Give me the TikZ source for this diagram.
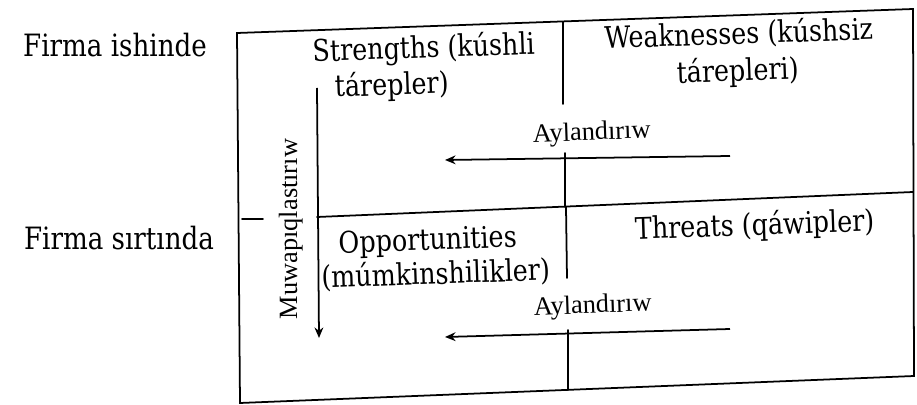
\documentclass[tikz,border=0pt]{standalone}
\usepackage{fontspec}
\setmainfont{Liberation Serif}
\newfontfamily\cellfont{DejaVu Serif}[FakeStretch=0.85]
\usetikzlibrary{arrows.meta}

\begin{document}
\begin{tikzpicture}[x=0.02cm, y=-0.02cm,
  rule/.style={line width=1pt, line cap=round},
  flow/.style={line width=1pt, -{Stealth[length=6pt,width=5pt]}},
  celltext/.style={font=\cellfont\fontsize{17}{20}\selectfont, inner sep=0pt, anchor=base, rotate=2},
  sidetext/.style={font=\cellfont\fontsize{17.5}{20}\selectfont, inner sep=0pt, anchor=base},
  turntext/.style={font=\fontsize{15}{18}\selectfont, inner sep=0pt, anchor=base, rotate=2},
]
\useasboundingbox (0,0) rectangle (917,405);

% outer frame of the SWOT table
\coordinate (tl) at (237,33);
\coordinate (tr) at (913,9);
\coordinate (br) at (914,376);
\coordinate (bl) at (240,403);
\draw[rule] (tl) -- (tr) -- (br) -- (bl) -- cycle;

% horizontal divider (interrupted by the vertical label)
\coordinate (ml1) at (242,219);
\coordinate (ml2) at (263,219);
\coordinate (ml3) at (317,217);
\coordinate (mr) at (913,192);
\draw[rule] (ml1) -- (ml2);
\draw[rule] (ml3) -- (mr);

% vertical divider, in four pieces
\coordinate (v1a) at (563,22);  \coordinate (v1b) at (563,104);
\coordinate (v2a) at (565,153); \coordinate (v2b) at (565,207);
\coordinate (v3a) at (566,207); \coordinate (v3b) at (567,278);
\coordinate (v4a) at (568,330); \coordinate (v4b) at (568,390);
\draw[rule] (v1a) -- (v1b);
\draw[rule] (v2a) -- (v2b);
\draw[rule] (v3a) -- (v3b);
\draw[rule] (v4a) -- (v4b);

% arrows
\coordinate (a1s) at (730,156); \coordinate (a1e) at (445,160);
\coordinate (a2s) at (730,329); \coordinate (a2e) at (445,337);
\coordinate (vs) at (317,88);   \coordinate (ve) at (319,338);
\draw[flow] (a1s) -- (a1e);
\draw[flow] (a2s) -- (a2e);
\draw[flow] (vs) -- (ve);

% row labels
\node[sidetext] (inside) at (115,57) {Firma ishinde};
\node[sidetext] (outside) at (119,250) {Firma sırtında};

% cell texts
\node[celltext] (s1) at (424,58) {Strengths (kúshli};
\node[celltext] (s2) at (392,95) {tárepler)};
\node[celltext] (w1) at (739,44) {Weaknesses (kúshsiz};
\node[celltext] (w2) at (738,81) {tárepleri)};
\node[celltext] (o1) at (428,250) {Opportunities};
\node[celltext] (o2) at (436,284) {(múmkinshilikler)};
\node[celltext] (t1) at (755,235) {Threats (qáwipler)};

% arrow labels
\node[turntext] (turn1) at (592,140) {Aylandırıw};
\node[turntext] (turn2) at (593,313) {Aylandırıw};
\node[font=\fontsize{15}{18}\selectfont, inner sep=0pt, anchor=base, rotate=90] (fit) at (297,229) {Muwapıqlastırıw};
\end{tikzpicture}
\end{document}
